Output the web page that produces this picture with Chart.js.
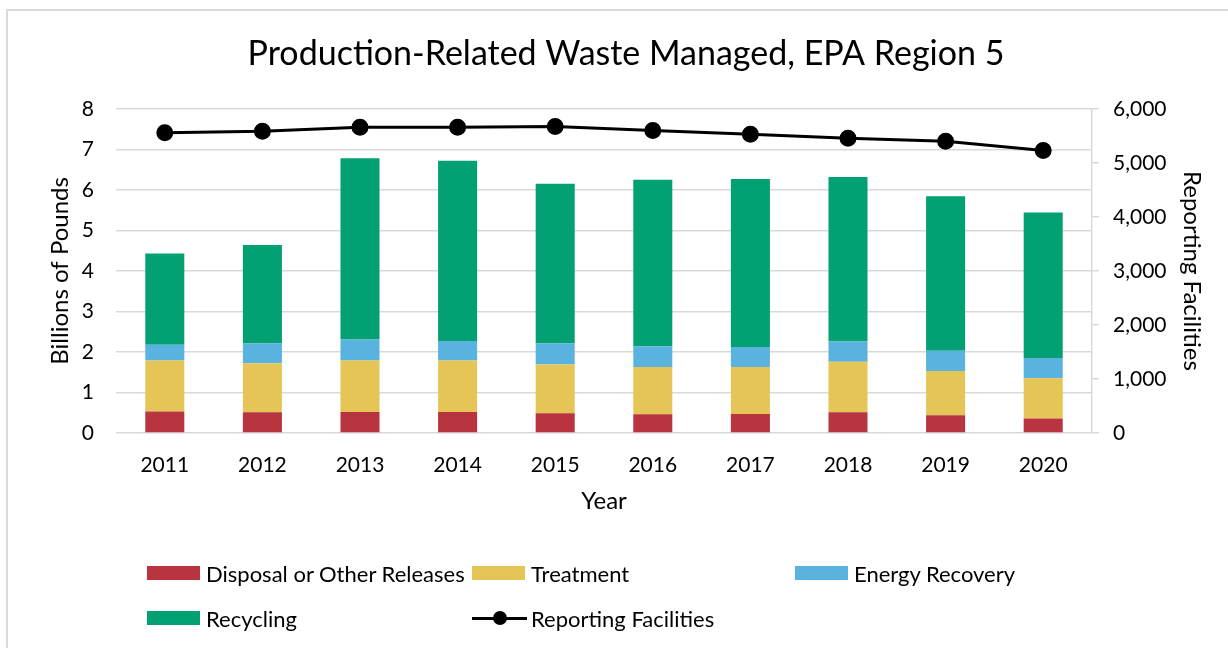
<!DOCTYPE html>
<html>
<head>
<meta charset="utf-8">
<script src="https://cdn.jsdelivr.net/npm/chart.js@4.4.0/dist/chart.umd.min.js"></script>
<style>
  html, body { margin: 0; padding: 0; background: #fff; }
  #wrap { position: relative; width: 1228px; height: 648px; overflow: hidden; }
  #frame { position: absolute; left: 6px; top: 9px; width: 1300px; height: 700px; border: 2px solid #d9d9d9; }
  #grafico { position: absolute; left: 0; top: 0; }
  #leyenda { position: absolute; left: 147px; top: 559px; display: grid; grid-template-columns: 325px 323px 300px; row-gap: 17px;
             font-family: Lato, sans-serif; font-size: 22px; color: #000; }
  #leyenda .item { display: flex; align-items: center; height: 28px; white-space: nowrap; }
  #leyenda .caja { width: 53px; height: 14px; margin-right: 6px; }
  #leyenda .linea { position: relative; width: 55px; height: 14px; margin-right: 4px; }
  #leyenda .linea::before { content: ""; position: absolute; left: 0; right: 0; top: 5.5px; height: 3px; background: #000; }
  #leyenda .linea::after { content: ""; position: absolute; left: 21px; top: 0; width: 14px; height: 14px; border-radius: 50%; background: #000; }
</style>
</head>
<body>
<div id="wrap">
  <div id="frame"></div>
  <canvas id="grafico" width="1228" height="648"></canvas>
  <div id="leyenda"></div>
</div>
<script>
const anios = ["2011", "2012", "2013", "2014", "2015", "2016", "2017", "2018", "2019", "2020"];

// Billions of pounds, per category (stacked)
const disposicion = [0.53, 0.51, 0.52, 0.52, 0.49, 0.46, 0.47, 0.51, 0.44, 0.36];
const tratamiento = [1.26, 1.21, 1.27, 1.27, 1.20, 1.17, 1.16, 1.25, 1.09, 0.99];
const energia     = [0.39, 0.49, 0.52, 0.48, 0.52, 0.51, 0.49, 0.50, 0.50, 0.50];
const reciclaje   = [2.25, 2.43, 4.47, 4.45, 3.94, 4.11, 4.15, 4.06, 3.81, 3.59];

// Number of reporting facilities (right axis)
const instalaciones = [5556, 5585, 5659, 5659, 5672, 5598, 5530, 5456, 5400, 5228];

const ticksIzq = [0, 1, 2, 3, 4, 5, 6, 7, 8];
const ticksDer = [0, 1000, 2000, 3000, 4000, 5000, 6000];

const fuente = "Lato, sans-serif";
const gris = "#d9d9d9";

const datasets = [
    { type: "bar", label: "Disposal or Other Releases", data: disposicion, backgroundColor: "#B8343F", yAxisID: "y", stack: "w", order: 2 },
    { type: "bar", label: "Treatment", data: tratamiento, backgroundColor: "#E6C557", yAxisID: "y", stack: "w", order: 2 },
    { type: "bar", label: "Energy Recovery", data: energia, backgroundColor: "#5AB3DF", yAxisID: "y", stack: "w", order: 2 },
    { type: "bar", label: "Recycling", data: reciclaje, backgroundColor: "#02A072", yAxisID: "y", stack: "w", order: 2 },
    { type: "line", label: "Reporting Facilities", data: instalaciones, borderColor: "#000", backgroundColor: "#000",
      borderWidth: 3, pointRadius: 7, pointHoverRadius: 7, tension: 0, yAxisID: "y1", order: 1 }
];

datasets.forEach(d => {
    if (d.type === "bar") {
        d.barPercentage = 0.4;
        d.categoryPercentage = 1.0;
    }
});

const ctx = document.getElementById("grafico").getContext("2d");
const myChart = new Chart(ctx, {
    data: { labels: anios, datasets: datasets },
    options: {
        responsive: false,
        animation: false,
        layout: { padding: { left: 43, right: 19, top: 12, bottom: 132 } },
        plugins: {
            legend: { display: false },
            tooltip: { enabled: false },
            title: {
                display: true,
                text: "Production-Related Waste Managed, EPA Region 5",
                color: "#000",
                font: { family: fuente, size: 34, weight: "normal" },
                padding: { top: 22, bottom: 34 }
            }
        },
        scales: {
            x: {
                afterFit: s => { s.height = 83; },
                grid: { display: false, drawTicks: false },
                border: { display: false },
                ticks: { color: "#000", font: { family: fuente, size: 21 }, padding: 20 },
                title: { display: true, text: "Year", color: "#000", font: { family: fuente, size: 24 }, padding: { top: 12, bottom: 0 } }
            },
            y: {
                position: "left",
                min: 0,
                max: 8,
                afterBuildTicks: s => { s.ticks = ticksIzq.map(v => ({ value: v })); },
                afterFit: s => { s.width = 116 - 43; },
                grid: { color: gris, lineWidth: 1.5, drawTicks: false },
                border: { display: false },
                ticks: { color: "#000", font: { family: fuente, size: 21 }, padding: 22 },
                title: { display: true, text: "Billions of Pounds", color: "#000", font: { family: fuente, size: 24 }, padding: { top: 3, bottom: 0 } }
            },
            y1: {
                position: "right",
                min: 0,
                max: 6000,
                afterBuildTicks: s => { s.ticks = ticksDer.map(v => ({ value: v })); },
                afterFit: s => { s.width = 1228 - 19 - 1092; },
                grid: { drawOnChartArea: false, drawTicks: true, tickLength: 7, color: gris, lineWidth: 1.5 },
                border: { display: true, color: gris, width: 1.5 },
                ticks: { color: "#000", font: { family: fuente, size: 21 }, padding: 14,
                         callback: v => v.toLocaleString("en-US") },
                title: { display: true, text: "Reporting Facilities", color: "#000", font: { family: fuente, size: 24 }, padding: { top: 3, bottom: 0 } }
            }
        }
    }
});

// Leyenda en HTML, construida a partir de los datasets
const leyenda = document.getElementById("leyenda");
const ordenLeyenda = [0, 1, 2, 3, 4];
ordenLeyenda.forEach(i => {
    const d = myChart.data.datasets[i];
    const item = document.createElement("div");
    item.className = "item";
    const marca = document.createElement("span");
    if (d.type === "line") {
        marca.className = "linea";
    } else {
        marca.className = "caja";
        marca.style.background = d.backgroundColor;
    }
    const texto = document.createElement("span");
    texto.textContent = d.label;
    item.appendChild(marca);
    item.appendChild(texto);
    leyenda.appendChild(item);
});
</script>
</body>
</html>
